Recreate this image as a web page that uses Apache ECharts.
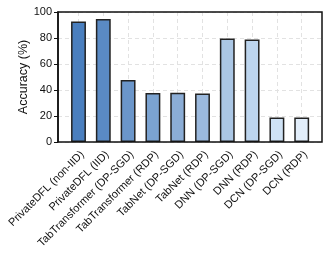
<!DOCTYPE html>
<html><head><meta charset="utf-8">
<script src="https://cdn.jsdelivr.net/npm/echarts@6/dist/echarts.min.js"></script>
<style>html,body{margin:0;padding:0;background:#fff}#c{width:329px;height:263px}</style>
</head><body><div id="c"></div>
<script>
const categories = ["PrivateDFL (non-IID)","PrivateDFL (IID)","TabTransformer (DP-SGD)","TabTransformer (RDP)","TabNet (DP-SGD)","TabNet (RDP)","DNN (DP-SGD)","DNN (RDP)","DCN (DP-SGD)","DCN (RDP)"];
const accuracy = [92.7, 94.6, 47.6, 37.7, 37.8, 37.4, 79.6, 78.9, 18.8, 18.8];
const barColors = ["#4a7fbf","#5a8ac4","#6b96ca","#7ba3d1","#8badd6","#9bb9dd","#abc7e5","#bdd5ee","#cfe2f5","#e2eefb"];
const yTicks = [0,20,40,60,80,100];
const chart = echarts.init(document.getElementById('c'));
const font = 'Liberation Sans, Arial, sans-serif';
const dash = {color:'#e2e2e2',type:[4,3],width:1};
chart.setOption({
  animation:false,
  grid:[
    {z:5,left:58,right:7,top:12,bottom:121,show:true,borderColor:'#111',borderWidth:1.5,backgroundColor:'transparent',outerBoundsMode:'none',containLabel:false},
    {left:66.1,right:14.9,top:12,bottom:121,outerBoundsMode:'none',containLabel:false}
  ],
  xAxis:[
    {gridIndex:0,type:'value',min:0,max:1,show:false},
    {gridIndex:1,type:'category',data:categories,
      axisLine:{show:false},
      axisTick:{alignWithLabel:true,length:3,lineStyle:{color:'#111',width:1}},
      axisLabel:{rotate:45,fontSize:11,color:'#111',fontFamily:font,margin:7,interval:0,verticalAlign:'top'},
      splitLine:{show:true,alignWithLabel:true,lineStyle:dash}}
  ],
  yAxis:[
    {gridIndex:0,type:'value',min:0,max:100,interval:20,name:'Accuracy (%)',nameLocation:'middle',nameGap:28,nameMoveOverlap:false,
      nameTextStyle:{fontSize:12.5,color:'#111',fontFamily:font},
      axisLine:{show:true,lineStyle:{color:'#111',width:1.5}},
      axisTick:{show:true,length:4,lineStyle:{color:'#111'}},
      axisLabel:{fontSize:11,color:'#111',fontFamily:font,margin:6,formatter:v=>yTicks.includes(v)?String(v):''},
      splitLine:{show:true,lineStyle:dash}},
    {gridIndex:1,type:'value',min:0,max:100,show:false,splitLine:{show:false}}
  ],
  series:[{type:'bar',xAxisIndex:1,yAxisIndex:1,barWidth:'60%',
    data:accuracy.map((v,i)=>({value:v,itemStyle:{color:barColors[i]}})),
    itemStyle:{borderColor:'#222',borderWidth:1.5}}]
});
</script></body></html>
